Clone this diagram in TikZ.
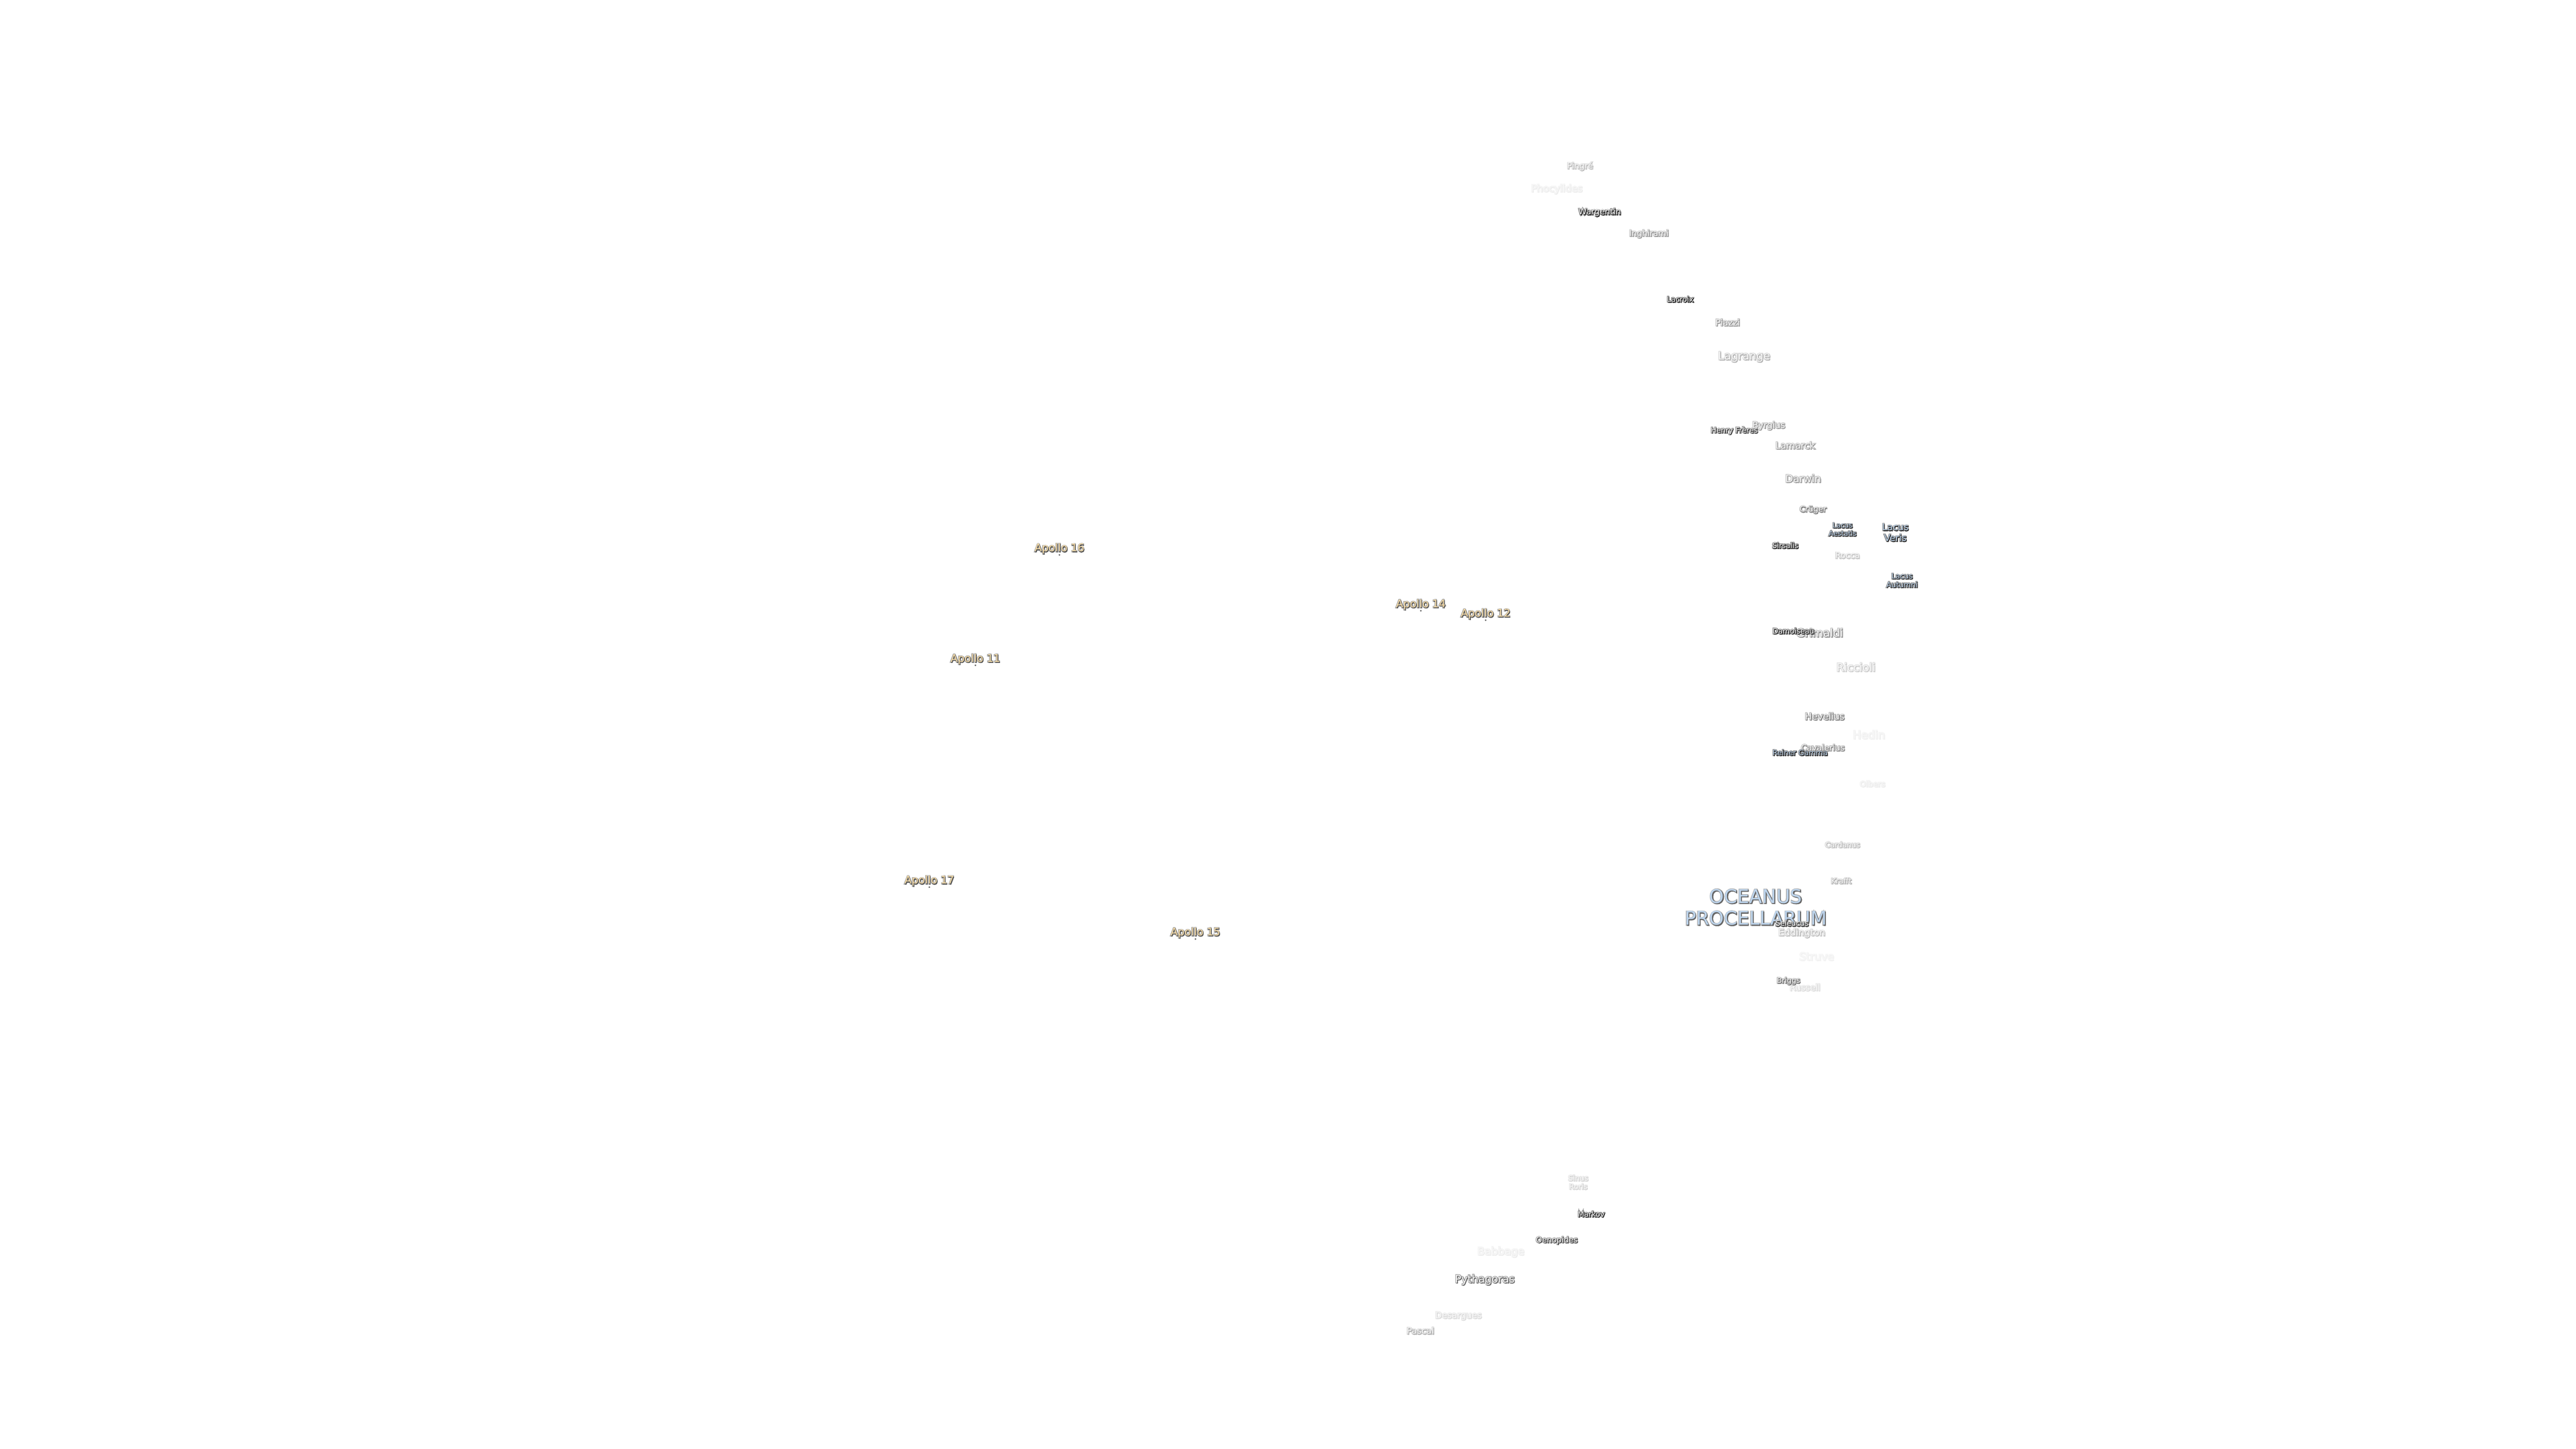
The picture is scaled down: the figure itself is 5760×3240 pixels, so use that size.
\documentclass[tikz,border=0pt]{standalone}
\usepackage{fontspec}
\setmainfont{DejaVu Sans}[Scale=1.03]
\usetikzlibrary{positioning}

\colorlet{hlfill}{white}
\colorlet{hlshadow}{black}
\colorlet{hlhalo}{gray}
\definecolor{marefill}{HTML}{BDD4EC}
\definecolor{sitefill}{HTML}{FBDFA9}

% stroked copy behind the label: dx, dy, colour, stroke width, stroke gray
\newcommand{\hlcopy}[5]{\rlap{\kern#1\raisebox{#2}[0pt][0pt]{\textcolor{#3}{\special{pdf:code q 2 Tr #4 w #5\space G}\hltext\special{pdf:code Q}}}}}
\newcommand{\halotxt}[1]{\leavevmode\def\hltext{#1}%
  \hlcopy{0pt}{0pt}{hlhalo}{3.2}{\hlgrayb}%
  \hlcopy{1.4pt}{-1.4pt}{hlshadow}{0.8}{\hlgraya}%
  \textcolor{hlfill}{#1}}
\newcommand{\hlset}[2]{\colorlet{hlfill}{#1}\colorlet{hlshadow}{black!#2!white}\colorlet{hlhalo}{hlshadow!60!white}%
  \pgfmathsetmacro{\hlgraya}{1-#2/100}\pgfmathsetmacro{\hlgrayb}{1-0.6*#2/100}}

\tikzset{
  fs/.style={font=\fontsize{#1}{\numexpr#1*6/5\relax}\selectfont},
  lbl/.style={inner sep=0pt, align=center},
  crater/.style={lbl, execute at begin node={\hlset{black!3!white}{#1}}},
  mare/.style={lbl, execute at begin node={\hlset{marefill}{#1}}},
  site/.style={lbl, fs=23, above=0pt of #1, execute at begin node={\hlset{sitefill}{65}}},
  sitedot/.style={circle, fill=black!60, inner sep=0pt, minimum size=4pt}
}

\begin{document}
\begin{tikzpicture}[x=1pt, y=-1pt]
  \useasboundingbox (0,0) rectangle (5760,3240);

  \begin{scope}[shift={(3,1)}]
  \node[crater=25, fs=18] (pingre)    at (3530,371)  {\halotxt{Pingré}};
  \node[crater=7,  fs=21] (phocylides) at (3478,422) {\halotxt{Phocylides}};
  \node[crater=85, fs=18] (wargentin) at (3574,474)  {\halotxt{Wargentin}};
  \node[crater=40, fs=18] (inghirami) at (3684,522)  {\halotxt{Inghirami}};
  \node[crater=90, fs=16] (lacroix)   at (3754,668)  {\halotxt{Lacroix}};
  \node[crater=40, fs=19] (piazzi)    at (3860,720)  {\halotxt{Piazzi}};
  \node[crater=30, fs=24] (lagrange)  at (3897,797)  {\halotxt{Lagrange}};
  \node[crater=40, fs=19] (byrgius)   at (3952,951)  {\halotxt{Byrgius}};
  \node[crater=75, fs=16] (henry)     at (3875,962)  {\halotxt{Henry Frères}};
  \node[crater=40, fs=20] (lamarck)   at (4011,995)  {\halotxt{Lamarck}};
  \node[crater=40, fs=22] (darwin)    at (4029,1069) {\halotxt{Darwin}};
  \node[crater=50, fs=17] (cruger)    at (4051,1139) {\halotxt{Crüger}};
  \node[mare=80,   fs=15] (aestatis)  at (4117,1183) {\halotxt{Lacus}\\\halotxt{Aestatis}};
  \node[mare=80,   fs=20] (veris)     at (4235,1190) {\halotxt{Lacus}\\\halotxt{Veris}};
  \node[crater=85, fs=16] (sirsalis)  at (3989,1219) {\halotxt{Sirsalis}};
  \node[crater=22, fs=18] (rocca)     at (4128,1241) {\halotxt{Rocca}};
  \node[mare=80,   fs=16] (autumni)   at (4250,1297) {\halotxt{Lacus}\\\halotxt{Autumni}};

  \node[crater=45, fs=24] (grimaldi)  at (4066,1414) {\halotxt{Grimaldi}};
  \node[crater=85, fs=16] (damoiseau) at (4007,1410) {\halotxt{Damoiseau}};
  \node[crater=20, fs=24] (riccioli)  at (4147,1491) {\halotxt{Riccioli}};
  \node[crater=50, fs=20] (hevelius)  at (4077,1601) {\halotxt{Hevelius}};
  \node[crater=6,  fs=24] (hedin)     at (4176,1642) {\halotxt{Hedin}};
  \node[crater=45, fs=18] (cavalerius) at (4073,1671) {\halotxt{Cavalerius}};
  \node[mare=85,   fs=16] (reiner)    at (4022,1682) {\halotxt{Reiner Gamma}};
  \node[crater=7,  fs=17] (olbers)    at (4184,1752) {\halotxt{Olbers}};
  \node[crater=25, fs=16] (cardanus)  at (4117,1888) {\halotxt{Cardanus}};
  \node[crater=30, fs=16] (krafft)    at (4114,1969) {\halotxt{Krafft}};

  \node[mare=60,   fs=41] (oceanus)   at (3923,2028) {\halotxt{OCEANUS}\\\halotxt{PROCELLARUM}};
  \node[crater=25, fs=20] (eddington) at (4026,2086) {\halotxt{Eddington}};
  \node[crater=75, fs=16] (seleucus)  at (4004,2064) {\halotxt{Seleucus}};
  \node[crater=5,  fs=23] (struve)    at (4059,2138) {\halotxt{Struve}};
  \node[crater=14, fs=19] (russell)   at (4033,2207) {\halotxt{Russell}};
  \node[crater=55, fs=16] (briggs)    at (3996,2193) {\halotxt{Briggs}};

  \node[crater=16, fs=16] (roris)     at (3526,2643) {\halotxt{Sinus}\\\halotxt{Roris}};
  \node[crater=85, fs=16] (markov)    at (3555,2714) {\halotxt{Markov}};
  \node[crater=70, fs=17] (oenopides) at (3478,2773) {\halotxt{Oenopides}};
  \node[crater=7,  fs=23] (babbage)   at (3353,2799) {\halotxt{Babbage}};
  \node[crater=60, fs=23] (pythagoras) at (3317,2861) {\halotxt{Pythagoras}};
  \node[crater=14, fs=19] (desargues) at (3258,2942) {\halotxt{Desargues}};
  \node[crater=30, fs=19] (pascal)    at (3173,2975) {\halotxt{Pascal}};
  \end{scope}

  \foreach \name/\x/\y/\txt in {dotxvi/2369/1241/Apollo 16, dotxiv/3177/1366/Apollo 14,
                                dotxii/3322/1387/Apollo 12, dotxi/2181/1488/Apollo 11,
                                dotxvii/2078/1984/Apollo 17, dotxv/2673/2100/Apollo 15}{
    \node[sitedot] (\name) at (\x,\y) {};
    \node[site=\name, fs=23] (lbl\name) {\halotxt{\txt}};
  }
\end{tikzpicture}
\end{document}
